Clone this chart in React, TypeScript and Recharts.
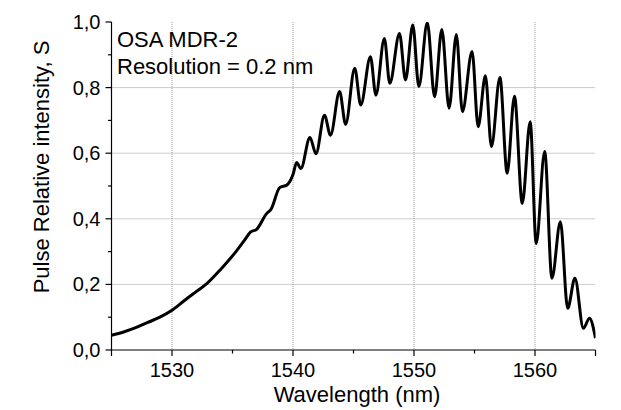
import React from 'react';
import { LineChart, Line, XAxis, YAxis, CartesianGrid } from 'recharts';

const wavelength = [
  1525.0, 1526.0, 1527.0, 1528.0, 1529.0, 1530.0, 1531.0, 1532.0, 1532.9, 1534.0,
  1535.35, 1536.0, 1536.5, 1537.0, 1537.8, 1538.2, 1538.9, 1539.5, 1540.0, 1540.3,
  1540.65, 1541.4, 1541.9, 1542.6, 1543.1, 1543.85, 1544.35, 1545.1, 1545.6, 1546.4,
  1546.85, 1547.55, 1548.0, 1548.8, 1549.3, 1549.9, 1550.4, 1551.1, 1551.7, 1552.3,
  1552.9, 1553.5, 1554.0, 1554.8, 1555.3, 1555.9, 1556.4, 1557.1, 1557.7, 1558.3,
  1558.95, 1559.6, 1560.1, 1560.8, 1561.4, 1562.1, 1562.7, 1563.3, 1564.0, 1564.5,
  1565.0,
];

const intensity = [
  0.045, 0.055, 0.068, 0.084, 0.100, 0.121, 0.150, 0.178, 0.203, 0.245,
  0.303, 0.335, 0.360, 0.368, 0.415, 0.430, 0.495, 0.503, 0.535, 0.572,
  0.553, 0.648, 0.598, 0.716, 0.655, 0.788, 0.688, 0.859, 0.747, 0.894,
  0.777, 0.950, 0.813, 0.965, 0.823, 0.991, 0.803, 0.998, 0.772, 0.977,
  0.737, 0.962, 0.727, 0.910, 0.681, 0.836, 0.620, 0.831, 0.539, 0.774,
  0.447, 0.696, 0.325, 0.605, 0.219, 0.391, 0.127, 0.219, 0.066, 0.097,
  0.036,
];

const xTicks = [1525, 1530, 1535, 1540, 1545, 1550, 1555, 1560, 1565];
const xLabelled = [1530, 1540, 1550, 1560];
const yTicks = [0, 0.1, 0.2, 0.3, 0.4, 0.5, 0.6, 0.7, 0.8, 0.9, 1.0];
const yLabelled = [0, 0.2, 0.4, 0.6, 0.8, 1.0];
const gridX = [1530, 1540, 1550, 1560];
const gridY = [0.2, 0.4, 0.6, 0.8];

const annotation = ['OSA MDR-2', 'Resolution = 0.2 nm'];
const xTitle = 'Wavelength (nm)';
const yTitle = 'Pulse Relative intensity, S';

const data = wavelength.map((w, i) => ({ w, v: intensity[i] }));

const FONT = '"Liberation Sans", Arial, sans-serif';

const XTick = (props: any) => {
  const { x, y, payload } = props;
  const v = payload.value;
  const len = v % 10 === 0 || v === 1525 || v === 1565 ? 6 : 3.5;
  return (
    <g>
      <line x1={x} x2={x} y1={y} y2={y + len} stroke="#000" strokeWidth={1.2} />
      {xLabelled.includes(v) && (
        <text x={x} y={y + 27} textAnchor="middle" fontSize={20} fontFamily={FONT} fill="#000">
          {v}
        </text>
      )}
    </g>
  );
};

const YTick = (props: any) => {
  const { x, y, payload } = props;
  const v = payload.value;
  const isMajor = yLabelled.some((m) => Math.abs(m - v) < 1e-6);
  const len = isMajor ? 6 : 3.5;
  return (
    <g>
      <line x1={x - len} x2={x} y1={y} y2={y} stroke="#000" strokeWidth={1.2} />
      {isMajor && (
        <text x={x - 11} y={y + 7} textAnchor="end" fontSize={20} fontFamily={FONT} fill="#000">
          {v.toFixed(1).replace('.', ',')}
        </text>
      )}
    </g>
  );
};

export default function App() {
  return (
    <div style={{ position: 'absolute', left: 0, top: 0, width: 621, height: 410, background: '#fff' }}>
      <LineChart
        width={621}
        height={410}
        data={data}
        margin={{ top: 22, right: 25.5, bottom: 0, left: 0 }}
      >
        <CartesianGrid
          horizontalValues={gridY}
          verticalValues={gridX}
          stroke="#9a9a9a"
          strokeDasharray="1 1"
          strokeWidth={1}
        />
        <XAxis
          dataKey="w"
          type="number"
          domain={[1525, 1565]}
          ticks={xTicks}
          allowDataOverflow
          height={60}
          tickSize={0}
          tickMargin={0}
          tickLine={false}
          axisLine={{ stroke: '#000', strokeWidth: 1.2 }}
          tick={<XTick />}
          interval={0}
          label={{
            content: () => (
              <text x={357} y={402} textAnchor="middle" fontSize={22} fontFamily={FONT} fill="#000">
                {xTitle}
              </text>
            ),
          }}
        />
        <YAxis
          type="number"
          domain={[0, 1]}
          ticks={yTicks}
          allowDataOverflow
          width={111.5}
          tickSize={0}
          tickMargin={0}
          tickLine={false}
          axisLine={{ stroke: '#000', strokeWidth: 1.2 }}
          tick={<YTick />}
          interval={0}
          label={{
            content: () => (
              <text
                x={49}
                y={167}
                transform="rotate(-90 49 167)"
                textAnchor="middle"
                fontSize={22}
                fontFamily={FONT}
                fill="#000"
              >
                {yTitle}
              </text>
            ),
          }}
        />
        <Line
          type="monotone"
          dataKey="v"
          stroke="#000"
          strokeWidth={3}
          dot={false}
          isAnimationActive={false}
        />
      </LineChart>
      <div
        style={{
          position: 'absolute',
          left: 117,
          top: 25.5,
          fontFamily: FONT,
          fontSize: 22,
          lineHeight: '27px',
          color: '#000',
          whiteSpace: 'nowrap',
        }}
      >
        {annotation.map((t) => (
          <div key={t}>{t}</div>
        ))}
      </div>
    </div>
  );
}
